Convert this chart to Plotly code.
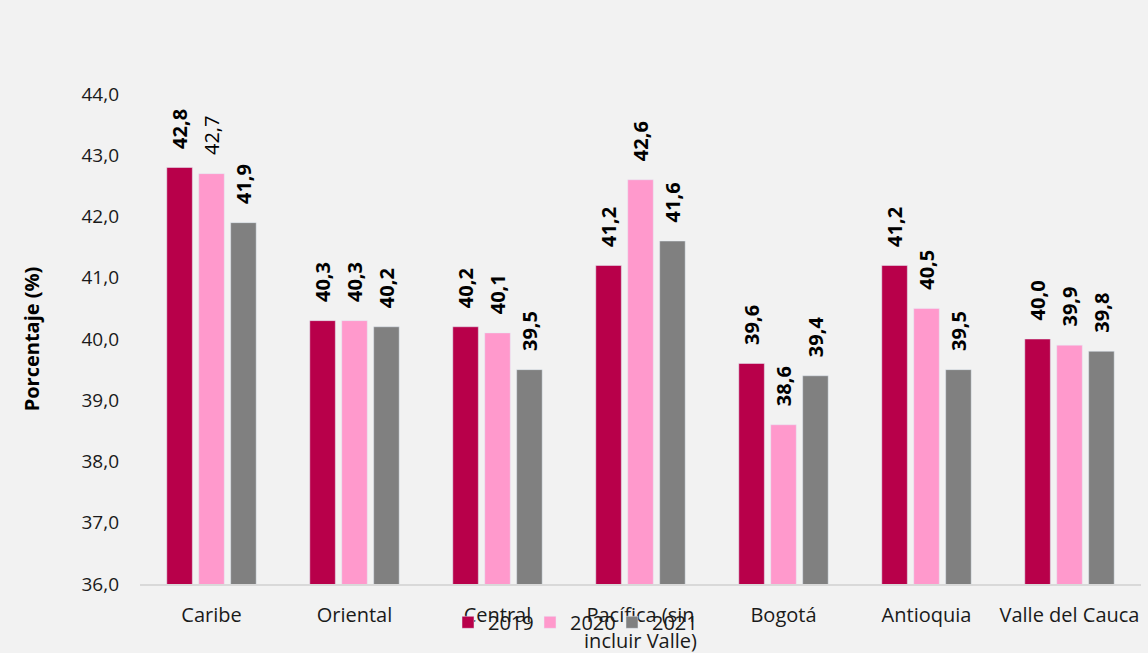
import plotly.graph_objects as go

categories = ["Caribe", "Oriental", "Central", "Pacífica (sin<br>incluir Valle)", "Bogotá", "Antioquia", "Valle del Cauca"]
years = ["2019", "2020", "2021"]
v2019 = [42.8, 40.3, 40.2, 41.2, 39.6, 41.2, 40.0]
v2020 = [42.7, 40.3, 40.1, 42.6, 38.6, 40.5, 39.9]
v2021 = [41.9, 40.2, 39.5, 41.6, 39.4, 39.5, 39.8]
series = [v2019, v2020, v2021]
colors = ["#B8004A", "#FF99CC", "#808080"]
# labels shown in regular weight (series index, category index)
plain_labels = {(1, 0)}

PAD = "\u00a0\u00a0\u00a0"

def fmt(v):
    return f"{v:.1f}".replace(".", ",")

fig = go.Figure()
for si, (name, vals, col) in enumerate(zip(years, series, colors)):
    texts = []
    for ci, v in enumerate(vals):
        t = fmt(v)
        texts.append(PAD + t if (si, ci) in plain_labels else f"<b>{PAD}{t}</b>")
    fig.add_trace(go.Bar(
        x=categories, y=vals, name=name, marker_color=col,
        text=texts, textposition="outside", textangle=-90,
        constraintext="none",
        textfont=dict(family="Open Sans", size=20, color="black"),
        cliponaxis=False,
    ))

fig.update_layout(
    barmode="group", bargap=0.33, bargroupgap=0.2,
    width=1148, height=653,
    paper_bgcolor="#F2F2F2", plot_bgcolor="#F2F2F2",
    margin=dict(l=140, r=7, t=94, b=69),
    font=dict(family="Open Sans", size=19, color="#1a1a1a"),
    showlegend=True,
    legend=dict(orientation="h", xref="container", yref="container",
                x=448 / 1148, y=0.047, xanchor="left", yanchor="middle",
                font=dict(size=20, color="#1a1a1a"), bgcolor="rgba(0,0,0,0)", itemwidth=30,
                entrywidth=37, entrywidthmode="pixels",
                traceorder="normal"),
    separators=",.",
)
fig.update_yaxes(range=[36, 44], dtick=1, tickformat=".1f",
                 showgrid=False, zeroline=False, showline=False, ticks="",
                 tickfont=dict(size=19), ticklabelstandoff=20,
                 title=dict(text="<b>Porcentaje (%)</b>", font=dict(size=20, color="black"), standoff=36))
fig.update_xaxes(showline=True, linecolor="#D9D9D9", linewidth=2, ticks="", showgrid=False,
                 tickfont=dict(size=20), ticklabelstandoff=12, automargin=False)
fig.write_html("out.html", config={"displayModeBar": False},
               post_script="document.body.style.margin='0';")
